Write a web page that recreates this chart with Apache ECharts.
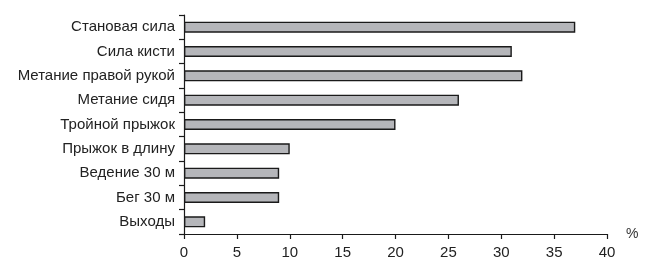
<!DOCTYPE html>
<html>
<head>
<meta charset="utf-8">
<script src="https://cdn.jsdelivr.net/npm/echarts@6/dist/echarts.min.js"></script>
<style>
html,body{margin:0;padding:0;background:#fff;}
#chart{width:651px;height:280px;}
</style>
</head>
<body>
<div id="chart"></div>
<script>
const categories = ["Становая сила","Сила кисти","Метание правой рукой","Метание сидя","Тройной прыжок","Прыжок в длину","Ведение 30 м","Бег 30 м","Выходы"];
const values = [37, 31, 32, 26, 20, 10, 9, 9, 2];
const xTicks = {min: 0, max: 40, interval: 5};
const unitLabel = "%";

const chart = echarts.init(document.getElementById('chart'), null, {renderer: 'canvas'});
const font = '"Liberation Sans", Arial, sans-serif';
chart.setOption({
  animation: false,
  backgroundColor: '#ffffff',
  grid: {left: 184, right: 44, top: 15, bottom: 46, containLabel: false},
  xAxis: {
    type: 'value',
    min: xTicks.min, max: xTicks.max, interval: xTicks.interval,
    name: unitLabel, nameLocation: 'end', nameGap: 19,
    nameTextStyle: {color: '#333', fontSize: 14, fontFamily: font, padding: [6, 0, 0, 0]},
    axisLine: {show: true, lineStyle: {color: '#1a1a1a', width: 1.2}},
    axisTick: {show: true, length: 5, inside: false, lineStyle: {color: '#1a1a1a', width: 1.2}},
    axisLabel: {color: '#222', fontSize: 15, fontFamily: font, margin: 11},
    splitLine: {show: false}
  },
  yAxis: {
    type: 'category',
    data: categories,
    inverse: true,
    axisLine: {show: true, lineStyle: {color: '#1a1a1a', width: 1.2}},
    axisTick: {show: true, length: 5, inside: false, alignWithLabel: false, lineStyle: {color: '#1a1a1a', width: 1.2}},
    axisLabel: {color: '#222', fontSize: 15, fontFamily: font, margin: 9},
    splitLine: {show: false}
  },
  series: [{
    type: 'bar',
    data: values,
    barWidth: 11,
    itemStyle: {color: '#b5b6ba', borderColor: '#1a1a1a', borderWidth: 1.4}
  }]
});
</script>
</body>
</html>
